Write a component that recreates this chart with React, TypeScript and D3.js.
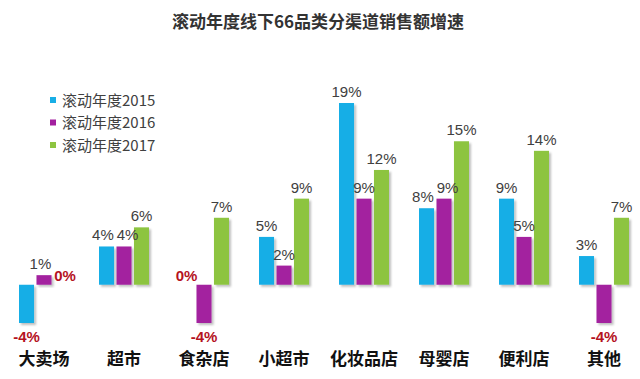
import React from "react";
import * as d3 from "d3";

const categories = ["大卖场", "超市", "食杂店", "小超市", "化妆品店", "母婴店", "便利店", "其他"];
const seriesNames = ["滚动年度2015", "滚动年度2016", "滚动年度2017"];
const values2015 = [-4, 4, 0, 5, 19, 8, 9, 3];
const values2016 = [1, 4, -4, 2, 9, 9, 5, -4];
const values2017 = [0, 6, 7, 9, 12, 15, 14, 7];
const colors = ["#18aee6", "#a3209f", "#8dc440"];
const title = "滚动年度线下66品类分渠道销售额增速";

const W = 640;
const H = 379;
const CJK = "'Noto Sans CJK SC', 'Noto Sans', sans-serif";
const LATIN = "'Liberation Sans', Arial, sans-serif";

function textWidth(s: string) {
  let w = 0;
  for (const ch of s) w += ch === "%" ? 13.3 : 8.34;
  return w;
}

export default function App() {
  const allSeries = [values2015, values2016, values2017];
  const x0 = d3.scaleBand<string>().domain(categories).range([4, 644]).paddingInner(0.375).paddingOuter(0.1875);
  const x1 = d3.scaleBand<number>().domain([0, 1, 2]).range([0, x0.bandwidth()]).paddingInner(0.14);
  const y = d3.scaleLinear().domain([-4, 19]).range([323, 103]);
  const y0 = y(0);

  return (
    <svg width={W} height={H} style={{ position: "absolute", left: 0, top: 0, background: "#fff" }}>
      <defs>
        <filter id="sh" x="-30%" y="-30%" width="160%" height="160%">
          <feDropShadow dx="2" dy="2" stdDeviation="1.2" floodColor="#000" floodOpacity="0.25" />
        </filter>
      </defs>
      <text x={318} y={28} textAnchor="middle" fontFamily={CJK} fontWeight="bold" fontSize={17} fill="#333">
        {title}
      </text>
      {seriesNames.map((s, i) => (
        <g key={s} transform={`translate(50, ${100 + i * 22.5})`}>
          <rect x={0} y={-3} width={6} height={6} fill={colors[i]} />
          <text x={12} y={5.5} fontFamily={CJK} fontSize={15} fill="#404040">
            {s}
          </text>
        </g>
      ))}
      {categories.map((c, ci) => {
        const bw = x1.bandwidth();
        const labels = allSeries.map((vals, si) => {
          const v = vals[ci];
          const cx = x1(si)! + bw / 2;
          const ly = v > 0 ? y(v) - 6 : v < 0 ? y(v) + 19 : y0 - 4;
          return { v, si, x: cx, y: ly, w: textWidth(`${v}%`) };
        });
        // simple horizontal collision resolution for labels at similar heights
        for (let i = 1; i < labels.length; i++) {
          const a = labels[i - 1];
          const b = labels[i];
          if (Math.abs(a.y - b.y) < 13) {
            const need = (a.w + b.w) / 2 + 3;
            const d = b.x - a.x;
            if (d < need) {
              const shift = (need - d) / 2;
              a.x -= shift;
              b.x += shift;
            }
          }
        }
        return (
          <g key={c} transform={`translate(${x0(c)}, 0)`}>
            {allSeries.map((vals, si) => {
              const v = vals[ci];
              const top = Math.min(y(v), y0);
              const h = Math.abs(y(v) - y0);
              return h > 0 ? (
                <rect key={si} x={x1(si)!} y={top} width={bw} height={h} fill={colors[si]} filter="url(#sh)" />
              ) : null;
            })}
            {labels.map((l) => (
              <text
                key={l.si}
                x={l.x}
                y={l.y}
                textAnchor="middle"
                fontFamily={LATIN}
                fontWeight={l.v > 0 ? "normal" : "bold"}
                fontSize={15}
                fill={l.v > 0 ? "#404040" : "#b5121e"}
              >
                {l.v}%
              </text>
            ))}
            <text x={x0.bandwidth() / 2} y={365} textAnchor="middle" fontFamily={CJK} fontWeight="bold" fontSize={17} fill="#111">
              {c}
            </text>
          </g>
        );
      })}
    </svg>
  );
}
